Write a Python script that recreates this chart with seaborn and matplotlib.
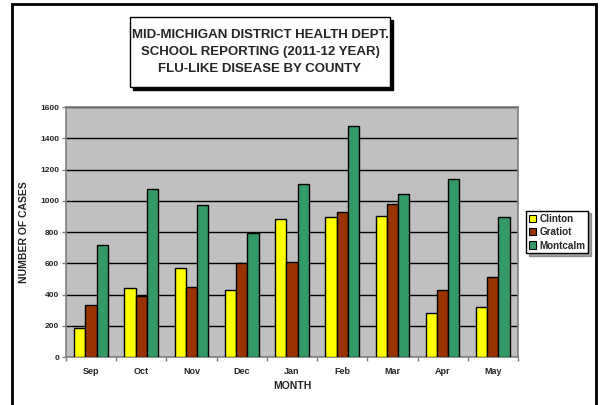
import pandas as pd
import numpy as np
import seaborn as sns
import matplotlib.pyplot as plt
import matplotlib.patches as mpatches

months = ["Sep", "Oct", "Nov", "Dec", "Jan", "Feb", "Mar", "Apr", "May"]
counties = ["Clinton", "Gratiot", "Montcalm"]
clinton = [185, 444, 570, 431, 885, 898, 904, 284, 322]
gratiot = [330, 392, 450, 600, 608, 928, 977, 429, 510]
montcalm = [717, 1077, 975, 796, 1109, 1480, 1045, 1141, 898]
y_ticks = [0, 200, 400, 600, 800, 1000, 1200, 1400, 1600]
colors = ["#FFFF00", "#993300", "#339966"]

df = pd.DataFrame({"Month": months * 3,
                   "County": np.repeat(counties, len(months)),
                   "Cases": clinton + gratiot + montcalm})

sns.set_style("white")
plt.rcParams['font.family'] = ['Liberation Sans', 'DejaVu Sans']
plt.rcParams['font.weight'] = 'bold'

fig = plt.figure(figsize=(6.01, 4.05), dpi=100)
ax = fig.add_axes([0.1098, 0.1185, 0.752, 0.617])

# outer frame (bottom edge runs off the picture)
frame = mpatches.Rectangle((11.5 / 601, -0.05), (596 - 11.5) / 601, 1.05 - 4 / 405,
                           transform=fig.transFigure, fill=False, edgecolor="black",
                           linewidth=2, zorder=0)
fig.patches.append(frame)

ax.set_facecolor("#C0C0C0")
sns.barplot(data=df, x="Month", y="Cases", hue="County", palette=colors,
            width=0.67, edgecolor="black", linewidth=1, saturation=1, ax=ax, zorder=3)

ax.set_ylim(0, 1600)
ax.set_yticks(y_ticks)
ax.set_yticklabels([str(t) for t in y_ticks], fontsize=6, fontweight="bold")
ax.yaxis.grid(True, color="black", linewidth=1, zorder=1)
ax.set_axisbelow(True)
ax.set_xlim(-0.5, len(months) - 0.5)
ax.set_xticks(range(len(months)))
ax.set_xticklabels(months, fontsize=6.5, fontweight="bold")
ax.set_xticks(np.arange(-0.5, len(months)), minor=True)
ax.tick_params(axis="x", which="major", length=0, pad=7)
ax.tick_params(axis="x", which="minor", length=3, color="#808080", width=1, direction="out")
ax.tick_params(axis="y", length=3, color="#808080", width=1, direction="out", pad=2)
ax.tick_params(left=True, bottom=True, which="both")
for s in ax.spines.values():
    s.set_color("#808080")
    s.set_linewidth(1.2)

ax.set_xlabel("MONTH", fontsize=7.5, fontweight="bold", labelpad=4)
ax.set_ylabel("NUMBER OF CASES", fontsize=7.5, fontweight="bold", labelpad=8)

handles = [mpatches.Patch(facecolor=c, edgecolor="black", linewidth=0.8) for c in colors]
ax.legend(handles, counties, loc="center left", bbox_to_anchor=(1.018, 0.5),
          prop={"weight": "bold", "size": 7.1}, frameon=True, fancybox=False, shadow=True,
          edgecolor="black", handlelength=0.75, handleheight=0.75, handletextpad=0.3,
          labelspacing=0.35, borderpad=0.3, borderaxespad=0)

# title box with shadow
bx, by, bw, bh = 130 / 601, 1 - 87 / 405, 260 / 601, 70 / 405
shadow = mpatches.Rectangle((bx + 3 / 601, by - 3 / 405), bw, bh, transform=fig.transFigure,
                            facecolor="black", edgecolor="black", zorder=1)
box = mpatches.Rectangle((bx, by), bw, bh, transform=fig.transFigure,
                         facecolor="white", edgecolor="black", linewidth=1, zorder=2)
fig.patches.extend([shadow, box])
fig.text(bx + bw / 2, by + bh / 2,
         "MID-MICHIGAN DISTRICT HEALTH DEPT.\nSCHOOL REPORTING (2011-12 YEAR)\nFLU-LIKE DISEASE BY COUNTY",
         ha="center", va="center", fontsize=9.5, fontweight="bold", linespacing=1.5, zorder=3)

fig.savefig("out.png", dpi=100)
